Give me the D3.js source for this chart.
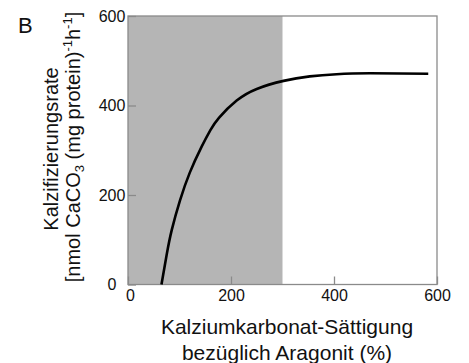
<!DOCTYPE html>
<html>
<head>
<meta charset="utf-8">
<script src="https://cdn.jsdelivr.net/npm/d3@7"></script>
<style>
  html, body { margin: 0; padding: 0; background: #fff; }
  svg { display: block; font-family: "Liberation Sans", Arial, Helvetica, sans-serif; }
</style>
</head>
<body>
<svg id="chart" width="469" height="363"></svg>
<script>
// Data
const saturation = [65, 75, 85, 101, 120, 143, 160, 177, 211, 250, 302, 353, 405, 470, 583];
const calcRate   = [0, 66, 122, 188, 250, 308, 345, 373, 411, 437, 455, 465, 470, 472, 471];
const shadedRange = [0, 300];
const xTicks = [0, 200, 400, 600];
const yTicks = [0, 200, 400, 600];

(function () {
const svg = d3.select("#chart");
const pL = 128, pR = 437, pT = 16, pB = 284.5;

const x = d3.scaleLinear().domain([0, 600]).range([pL, pR]);
const y = d3.scaleLinear().domain([0, 600]).range([pB, pT]);

// shaded region
svg.append("rect")
  .attr("x", x(shadedRange[0])).attr("y", pT)
  .attr("width", x(shadedRange[1]) - x(shadedRange[0]))
  .attr("height", pB - pT)
  .attr("fill", "#b5b5b5");

// frame
svg.append("rect")
  .attr("x", pL).attr("y", pT)
  .attr("width", pR - pL).attr("height", pB - pT)
  .attr("fill", "none").attr("stroke", "#8a8a8a").attr("stroke-width", 1.3);

// axes (inner ticks)
const xAxis = d3.axisBottom(x).tickValues(xTicks).tickSize(-8).tickPadding(5).tickFormat(d3.format("d"));
const gx = svg.append("g").attr("transform", `translate(0,${pB})`).call(xAxis);
gx.select(".domain").remove();
gx.selectAll(".tick line").attr("stroke", "#8a8a8a").attr("stroke-width", 1.3);
gx.selectAll(".tick text").attr("font-size", 16).attr("fill", "#111").attr("y", 5).attr("dy", "0.71em")
  .attr("dx", d => d === 0 ? 2 : 0);

const yAxis = d3.axisLeft(y).tickValues(yTicks).tickSize(-8).tickPadding(0).tickFormat(d3.format("d"));
const gy = svg.append("g").attr("transform", `translate(${pL},0)`).call(yAxis);
gy.select(".domain").remove();
gy.selectAll(".tick line").attr("stroke", "#8a8a8a").attr("stroke-width", 1.3);
gy.selectAll(".tick text").attr("font-size", 16).attr("fill", "#111")
  .attr("text-anchor", "middle").attr("x", 112 - pL);

// curve
const pts = saturation.map((s, i) => [s, calcRate[i]]);
svg.append("path")
  .datum(pts)
  .attr("fill", "none").attr("stroke", "#000").attr("stroke-width", 2.6)
  .attr("d", d3.line().x(d => x(d[0])).y(d => y(d[1])).curve(d3.curveNatural));

// panel letter
svg.append("text").attr("x", 18).attr("y", 33).attr("font-size", 22).attr("fill", "#111").text("B");

// x-axis title
const xt = svg.append("text").attr("text-anchor", "middle").attr("font-size", 21).attr("fill", "#111");
xt.append("tspan").attr("x", 287).attr("y", 334).text("Kalziumkarbonat-Sättigung");
xt.append("tspan").attr("x", 287).attr("y", 360).text("bezüglich Aragonit (%)");

// y-axis title
const yt = svg.append("text").attr("text-anchor", "middle").attr("font-size", 20).attr("fill", "#111")
  .attr("transform", "rotate(-90)");
yt.append("tspan").attr("x", -149).attr("y", 58).text("Kalzifizierungsrate");
const l2 = svg.append("text").attr("text-anchor", "middle").attr("font-size", 20).attr("fill", "#111")
  .attr("transform", "rotate(-90)").attr("x", -147).attr("y", 80);
l2.append("tspan").text("[nmol CaCO");
l2.append("tspan").attr("font-size", 13).attr("dy", 4).text("3");
l2.append("tspan").attr("dy", -4).text(" (mg protein)");
l2.append("tspan").attr("font-size", 13).attr("dy", -8).text("-1");
l2.append("tspan").attr("dy", 8).text("h");
l2.append("tspan").attr("font-size", 13).attr("dy", -8).text("-1");
l2.append("tspan").attr("dy", 8).text("]");
})();
</script>
</body>
</html>
